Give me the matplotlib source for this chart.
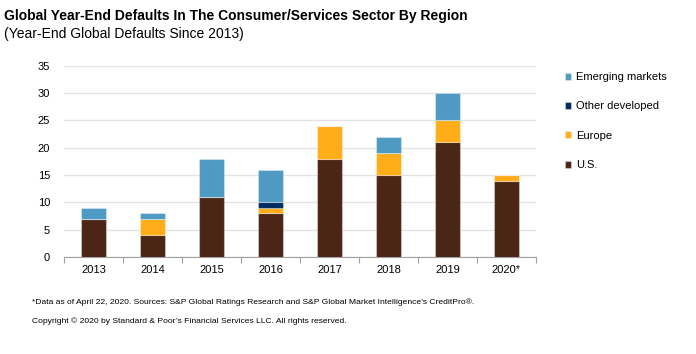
import matplotlib
matplotlib.use("Agg")
import matplotlib.pyplot as plt
import numpy as np

plt.rcParams['font.family'] = ['Liberation Sans', 'DejaVu Sans']

years = ["2013", "2014", "2015", "2016", "2017", "2018", "2019", "2020*"]
us = [7, 4, 11, 8, 18, 15, 21, 14]
europe = [0, 3, 0, 1, 6, 4, 4, 1]
other_dev = [0, 0, 0, 1, 0, 0, 0, 0]
emerging = [2, 1, 7, 6, 0, 3, 5, 0]

series = [
    ("U.S.", us, "#4B2616"),
    ("Europe", europe, "#FFAD19"),
    ("Other developed", other_dev, "#002B5E"),
    ("Emerging markets", emerging, "#4F9AC3"),
]

fig = plt.figure(figsize=(6.96, 3.54), dpi=100)
ax = fig.add_axes([0.092, 0.274, 0.678, 0.54])

x = np.arange(len(years))
bottom = np.zeros(len(years))
handles = []
for name, vals, color in series:
    vals = np.array(vals, dtype=float)
    b = ax.bar(x, vals, width=0.41, bottom=bottom, color=color,
               edgecolor=(1, 1, 1, 0.35), linewidth=0.8, label=name, zorder=3)
    handles.append(b)
    bottom += vals

ax.set_xlim(-0.5, len(years) - 0.5)
ax.set_ylim(0, 35)
ax.set_yticks(range(0, 36, 5))
ax.set_xticks(x)
ax.set_xticklabels(years)
ax.set_xticks(np.arange(-0.5, len(years), 1), minor=True)
ax.tick_params(axis='x', which='major', length=0, labelsize=8, pad=6)
ax.tick_params(axis='x', which='minor', length=4, color='#A0A0A0', width=0.8)
ax.tick_params(axis='y', length=0, labelsize=8, pad=10)
ax.grid(axis='y', color='#E3E3E3', linewidth=1, zorder=0)
for s in ['top', 'right', 'left']:
    ax.spines[s].set_visible(False)
ax.spines['bottom'].set_color('#A0A0A0')

leg = fig.legend(handles[::-1], [s[0] for s in series][::-1],
                 loc='upper left', bbox_to_anchor=(0.797, 0.825),
                 frameon=False, fontsize=8, handlelength=0.6, handleheight=0.6,
                 handletextpad=0.4, labelspacing=1.75)

fig.text(0.006, 0.975, "Global Year-End Defaults In The Consumer/Services Sector By Region",
         fontsize=10, fontweight='bold', va='top')
fig.text(0.006, 0.925, "(Year-End Global Defaults Since 2013)", fontsize=10, va='top')

fig.text(0.046, 0.147, "*Data as of April 22, 2020. Sources: S&P Global Ratings Research and S&P Global Market Intelligence\u2019s CreditPro\u00ae.",
         fontsize=6.1, va='center')
fig.text(0.046, 0.093, "Copyright \u00a9 2020 by Standard & Poor\u2019s Financial Services LLC. All rights reserved.",
         fontsize=6.1, va='center')

fig.savefig("out.png", dpi=100)
